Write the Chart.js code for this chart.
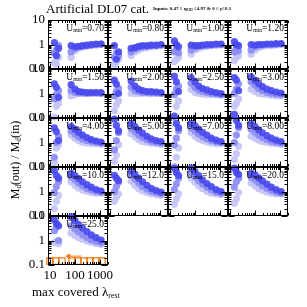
<!DOCTYPE html>
<html><head><meta charset="utf-8">
<script src="https://cdn.jsdelivr.net/npm/chart.js@4.4.1/dist/chart.umd.min.js"></script>
<style>
html,body{margin:0;padding:0;background:#fff;}
#wrap{position:relative;width:307px;height:307px;overflow:hidden;font-family:'Liberation Serif',serif;color:#000;}
canvas{position:absolute;}
.t{position:absolute;white-space:nowrap;line-height:1;}
.t sub{font-size:60%;vertical-align:-0.25em;line-height:0;}
</style></head><body><div id="wrap"></div>
<script>
// ---- data ----
const panelLabels = ['0.70','0.80','1.00','1.20','1.50','2.00','2.50','3.00','4.00','5.00','7.00','8.00','10.0','12.0','15.0','20.0','25.0'];
const lamL = [15, 18, 22];
const lamR = [70, 100, 140, 200, 300, 450, 700, 1100];
// each track: 3 values at lamL then 8 values at lamR  (light, mid, dark)
const u0_70 = [[0.18,0.16,0.3, 0.3,0.55,0.7,0.8,0.85,0.9,0.95,1.0],[0.45,0.6,0.9, 0.5,0.7,0.8,0.85,0.9,0.95,1.0,1.05],[1.2,0.35,0.7, 0.9,0.8,0.85,0.9,0.95,1.0,1.05,1.05]];
const u0_80 = [[0.15,0.2,0.25, 0.35,0.5,0.6,0.7,0.75,0.8,0.85,0.9],[0.3,0.45,0.35, 0.5,0.65,0.75,0.8,0.85,0.9,0.9,0.95],[0.9,0.25,0.5, 0.7,0.75,0.85,0.9,0.9,0.95,0.95,1.0]];
const u1_00 = [[0.2,0.25,0.3, 0.4,0.6,0.7,0.8,0.85,0.9,0.9,0.95],[0.5,0.6,0.45, 0.6,0.75,0.85,0.9,0.9,0.95,1.0,1.0],[1.4,1.0,0.8, 0.95,0.9,0.9,0.95,1.0,1.0,1.05,1.05]];
const u1_20 = [[0.22,0.3,0.35, 0.4,0.6,0.75,0.85,0.9,0.9,0.95,1.0],[0.5,0.7,0.55, 0.6,0.8,0.9,0.95,1.0,1.0,1.0,1.05],[1.3,1.0,0.9, 1.0,0.95,1.0,1.0,1.05,1.05,1.1,1.1]];
const u1_50 = [[0.11,0.3,0.4, 0.8,0.9,1.0,1.0,1.0,1.0,1.0,1.0],[0.6,0.9,1.3, 1.3,1.1,1.05,1.05,1.0,1.05,1.05,1.0],[2.5,1.8,0.7, 2.3,1.5,1.2,1.15,1.1,1.1,1.1,1.1]];
const u2_00 = [[0.2,0.35,0.5, 1.0,1.0,1.0,1.0,1.0,1.0,1.0,1.0],[0.8,1.2,1.6, 1.8,1.3,1.2,1.1,1.1,1.05,1.05,1.0],[3.5,2.4,1.0, 3.2,2.0,1.5,1.3,1.2,1.2,1.15,1.1]];
const u2_50 = [[0.1,0.3,0.5, 1.5,1.1,1.0,0.95,0.9,0.9,0.9,0.85],[0.9,1.5,2.0, 2.6,1.8,1.4,1.2,1.1,1.0,0.95,0.9],[5.0,3.0,1.2, 4.5,3.0,2.0,1.6,1.4,1.2,1.1,1.0]];
const u3_00 = [[0.3,0.4,0.6, 1.5,1.2,1.0,0.95,0.9,0.85,0.8,0.8],[1.0,1.5,2.5, 3.0,2.2,1.6,1.3,1.1,1.0,0.95,0.9],[4.5,3.5,1.3, 4.8,3.5,2.5,1.9,1.5,1.3,1.15,1.05]];
const u4_00 = [[0.15,0.6,0.8, 2.0,1.5,1.2,1.0,0.95,0.9,0.9,0.85],[0.25,1.0,1.8, 3.0,2.2,1.7,1.4,1.2,1.1,1.0,0.95],[4.0,2.8,1.2, 4.5,3.5,2.6,2.0,1.6,1.3,1.15,1.05]];
const u5_00 = [[0.17,0.3,0.8, 2.3,1.7,1.3,1.1,1.0,0.95,0.9,0.85],[0.5,1.2,2.5, 3.8,2.8,2.0,1.6,1.3,1.1,1.0,0.95],[9.0,5.0,3.0, 6.0,4.5,3.2,2.4,1.8,1.4,1.2,1.1]];
const u7_00 = [[0.11,0.25,0.6, 2.5,1.8,1.4,1.2,1.05,0.95,0.9,0.9],[0.8,1.5,3.0, 4.0,3.0,2.2,1.7,1.4,1.2,1.05,1.0],[12,6.0,4.0, 6.0,4.8,3.5,2.6,2.0,1.5,1.25,1.1]];
const u8_00 = [[0.2,0.35,0.7, 1.8,1.5,1.25,1.1,1.0,0.95,0.9,0.85],[1.0,2.0,4.0, 3.5,2.6,2.0,1.6,1.3,1.1,1.0,0.95],[14,8.0,5.0, 6.0,4.5,3.3,2.5,1.9,1.5,1.25,1.1]];
const u10_0 = [[0.2,0.4,0.7, 2.5,1.8,1.4,1.15,1.0,0.9,0.85,0.85],[0.9,1.6,2.5, 4.0,3.0,2.2,1.7,1.35,1.15,1.0,0.95],[7.0,4.5,3.5, 5.5,4.5,3.4,2.5,1.9,1.5,1.2,1.05]];
const u12_0 = [[0.4,0.6,0.8, 2.6,1.8,1.3,1.05,0.9,0.8,0.75,0.7],[1.0,1.6,2.4, 4.5,3.2,2.2,1.6,1.25,1.0,0.9,0.8],[4.6,3.5,2.8, 7.0,5.0,3.5,2.5,1.8,1.35,1.1,0.95]];
const u15_0 = [[0.3,0.5,0.8, 3.5,2.4,1.7,1.3,1.0,0.85,0.8,0.75],[1.2,2.0,3.5, 5.5,4.0,2.8,2.0,1.5,1.15,0.95,0.85],[9.0,6.0,4.5, 9.0,6.5,4.5,3.0,2.1,1.6,1.2,1.0]];
const u20_0 = [[0.33,0.5,0.9, 2.2,1.7,1.3,1.1,0.95,0.85,0.8,0.8],[1.5,2.5,3.5, 3.8,3.0,2.3,1.7,1.35,1.1,0.95,0.85],[9.0,6.0,5.0, 5.5,4.8,3.6,2.7,2.0,1.5,1.2,1.0]];
const u25_0 = [[0.8,0.9,0.75, 2.0,1.6,1.3,1.1,0.95,0.85,0.75,0.7],[2.5,3.5,1.0, 4.0,3.0,2.3,1.7,1.3,1.05,0.9,0.8],[7.0,5.0,4.0, 9.0,6.5,4.5,3.2,2.3,1.7,1.3,1.05]];
const panelData = [u0_70,u0_80,u1_00,u1_20,u1_50,u2_00,u2_50,u3_00,u4_00,u5_00,u7_00,u8_00,u10_0,u12_0,u15_0,u20_0,u25_0];
// failed fits (orange open squares) and arrow in last panel
const lamFail = [10, 17, 30, 76, 130, 230, 400, 690, 1200];
const yFail = [0.145, 0.145, 0.145, 0.145, 0.145, 0.145, 0.145, 0.145, 0.145];
const arrowLam = [55, 180];
const arrowY = [0.23, 0.23];
const xTickLabels = [10, 100, 1000];
const yTickLabels = [0.1, 1, 10];

// ---- layout ----
const X0 = 48, PW = 60, Y0 = 20, PH = 49;
const ML = 40, MT = 12, MR = 12, MB = 30;
const XMIN = Math.pow(10, 0.92), XMAX = Math.pow(10, 3.32);
const YMIN = 0.1, YMAX = 10;
const FONT = "'Liberation Serif', serif";
const trackColors = ['rgba(196,196,246,0.92)', 'rgba(140,140,244,0.92)', 'rgba(72,72,240,0.9)'];
const ORANGE = '#f07a10';

function logTicks(min, max) {
  const out = [];
  for (let d = -2; d <= 4; d++) for (let m = 1; m <= 9; m++) {
    const v = parseFloat((m * Math.pow(10, d)).toPrecision(6));
    if (v >= min * 0.9999 && v <= max * 1.0001) out.push({ value: v, major: m === 1 });
  }
  return out;
}

const framePlugin = {
  id: 'frame',
  afterDraw(chart) {
    const { ctx, chartArea: a, scales: { x, y } } = chart;
    const L = Math.round(a.left) + 0.5, R = Math.round(a.right) - 0.5;
    const T = Math.round(a.top) + 0.5, B = Math.round(a.bottom) - 0.5;
    ctx.save();
    ctx.strokeStyle = '#000'; ctx.lineWidth = 1;
    ctx.strokeRect(L, T, R - L, B - T);
    ctx.beginPath();
    x.ticks.forEach(t => {
      const p = Math.round(x.getPixelForValue(t.value)) + 0.5;
      const len = t.major ? 5 : 2.5;
      ctx.moveTo(p, B); ctx.lineTo(p, B - len);
      ctx.moveTo(p, T); ctx.lineTo(p, T + len);
    });
    y.ticks.forEach(t => {
      const p = Math.round(y.getPixelForValue(t.value)) + 0.5;
      const len = t.major ? 6 : 3;
      ctx.moveTo(L, p); ctx.lineTo(L + len, p);
      ctx.moveTo(R, p); ctx.lineTo(R - len, p);
    });
    ctx.stroke();
    ctx.restore();
  }
};

const wrap = document.getElementById('wrap');

panelData.forEach((tracks, i) => {
  const col = i % 4, row = Math.floor(i / 4);
  const cv = document.createElement('canvas');
  const W = ML + PW + MR, H = MT + PH + MB;
  cv.width = W; cv.height = H;
  cv.style.left = (X0 + col * PW - ML) + 'px';
  cv.style.top = (Y0 + row * PH - MT) + 'px';
  cv.style.width = W + 'px'; cv.style.height = H + 'px';
  wrap.appendChild(cv);

  const datasets = [];
  [2, 1, 0].forEach(k => {
    const t = tracks[k];
    const pts = lamL.map((x, j) => ({ x, y: t[j] })).concat(lamR.map((x, j) => ({ x, y: t[lamL.length + j] })));
    datasets.push({ type: 'scatter', data: pts, backgroundColor: trackColors[k], borderWidth: 0, pointRadius: 3.6, clip: false });
  });
  const last = i === panelData.length - 1;
  if (last) {
    datasets.unshift({ type: 'line', data: arrowLam.map((x, j) => ({ x, y: arrowY[j] })), borderColor: ORANGE, borderWidth: 1,
      pointRadius: [2.5, 0], pointStyle: 'triangle', rotation: -90, pointBackgroundColor: ORANGE, pointBorderColor: ORANGE, clip: false });
    datasets.unshift({ type: 'scatter', data: lamFail.map((x, j) => ({ x, y: yFail[j] })), pointStyle: 'rect', pointRadius: 4.5,
      backgroundColor: 'rgba(0,0,0,0)', borderColor: ORANGE, borderWidth: 1.2, clip: false });
  }
  const showY = col === 0;
  const showX = last;
  new Chart(cv, {
    type: 'scatter',
    data: { datasets },
    options: {
      responsive: false, animation: false, events: [], devicePixelRatio: 1,
      plugins: { legend: { display: false }, tooltip: { enabled: false } },
      layout: { padding: { top: MT, right: MR, left: 0, bottom: 0 } },
      scales: {
        x: {
          type: 'logarithmic', min: XMIN, max: XMAX, position: 'bottom',
          afterBuildTicks: s => { s.ticks = logTicks(XMIN, XMAX); },
          afterFit: s => { s.height = MB; },
          grid: { display: false, drawTicks: false }, border: { display: false },
          ticks: { display: showX, autoSkip: false, maxRotation: 0, padding: 3, color: '#000',
            font: { family: FONT, size: 13 },
            callback: v => xTickLabels.includes(v) ? String(v) : '' }
        },
        y: {
          type: 'logarithmic', min: YMIN, max: YMAX, position: 'left',
          afterBuildTicks: s => { s.ticks = logTicks(YMIN, YMAX); },
          afterFit: s => { s.width = ML; },
          grid: { display: false, drawTicks: false }, border: { display: false },
          ticks: { display: showY, autoSkip: false, padding: 3, color: '#000',
            font: { family: FONT, size: 13 },
            callback: v => yTickLabels.includes(v) ? String(v) : '' }
        }
      }
    },
    plugins: [framePlugin]
  });

  const lab = document.createElement('div');
  lab.className = 't';
  lab.style.fontSize = '9.5px';
  lab.style.right = (307 - (X0 + (col + 1) * PW) + 4) + 'px';
  lab.style.top = (Y0 + row * PH + 4) + 'px';
  lab.innerHTML = 'U<sub>min</sub>=' + panelLabels[i];
  wrap.appendChild(lab);
});

function addText(html, css) {
  const d = document.createElement('div');
  d.className = 't';
  d.innerHTML = html;
  Object.assign(d.style, css);
  wrap.appendChild(d);
}
addText('Artificial DL07 cat.', { left: '46px', top: '2px', fontSize: '13px' });
addText('Inputs: 0.47 ≤ q<sub>PAH</sub> ≤4.97 &amp; 0 ≤ γ≤0.1', { left: '153px', top: '6px', fontSize: '5px', fontWeight: 'bold' });
addText('max covered λ<sub>rest</sub>', { left: '32px', top: '285px', fontSize: '13px' });
addText('M<sub>d</sub>(out) / M<sub>d</sub>(in)', { left: '15px', top: '160px', fontSize: '12px', transform: 'translate(-50%,-50%) rotate(-90deg)' });
</script>
</body></html>
